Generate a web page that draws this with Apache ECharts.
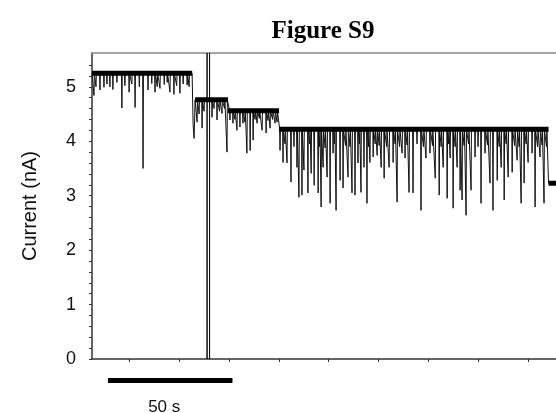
<!DOCTYPE html>
<html>
<head>
<meta charset="utf-8">
<script src="https://cdn.jsdelivr.net/npm/echarts@6/dist/echarts.min.js"></script>
<style>
html, body { margin: 0; padding: 0; background: #fff; }
#myChart { width: 556px; height: 413px; }
</style>
</head>
<body>
<div id="myChart"></div>
<script>
// current levels (nA) of the trace, with start / end time (s)
var levelStart = [0, 41.4, 54.6, 75.1, 183.3];
var levelEnd = [40.2, 54.6, 75.1, 183.3, 186.3];
var levelValue = [5.25, 4.76, 4.56, 4.22, 3.23];

// downward spikes: time (s) and lowest current (nA)
var spikeTime = [0.8, 3.2, 4.8, 8.4, 12.0, 14.9, 17.3, 20.5, 22.5, 25.3, 27.3, 31.3, 32.9, 35.3, 38.2,
    42.2, 44.2, 48.2, 50.2, 52.2, 54.2,
    55.4, 56.6, 58.2, 59.4, 60.6, 62.2, 63.5, 64.7, 66.3, 68.3, 69.9, 71.5, 73.5,
    75.5, 76.7, 78.3, 79.9, 82.3, 83.1, 84.3, 85.1, 86.7, 88.0, 89.2, 90.8, 92.0, 92.8, 94.4, 95.6,
    96.8, 98.0, 99.6, 100.8, 102.8, 104.4, 105.6, 106.8, 108.0, 109.2, 110.4, 111.6, 112.9, 114.5,
    116.1, 117.3, 119.3, 120.9, 122.5, 124.5, 125.7, 127.3, 128.9, 132.1, 134.1, 135.7, 137.8, 139.4,
    141.0, 142.6, 143.8, 145.0, 146.6, 147.8, 148.6, 150.2, 152.2, 153.8, 156.2, 157.8, 159.8, 161.0,
    162.7, 164.3, 165.5, 167.1, 168.7, 170.7, 172.3, 173.5, 175.1, 176.7, 177.9, 179.9, 181.5];
var spikeDepth = [4.84, 4.94, 4.99, 4.95, 4.61, 4.90, 4.62, 3.50, 4.94, 4.90, 4.97, 4.90, 4.86, 4.88, 5.03,
    4.35, 4.24, 4.44, 4.39, 4.51, 3.80,
    4.39, 4.33, 4.20, 4.26, 4.33, 3.78, 3.83, 4.02, 4.33, 4.20, 4.15, 4.24, 4.33,
    3.83, 3.61, 3.60, 3.25, 3.52, 2.97, 3.01, 3.47, 3.05, 3.41, 3.19, 3.05, 2.79, 3.52, 3.34, 2.86,
    3.78, 2.73, 3.28, 3.14, 3.34, 3.05, 3.01, 3.60, 3.06, 3.52, 2.86, 3.61, 3.71, 3.74,
    3.52, 3.32, 3.52, 3.61, 2.88, 3.78, 3.69, 3.06, 3.05, 2.73, 3.69, 3.78, 3.32, 3.01,
    3.52, 2.95, 3.69, 2.77, 3.52, 3.10, 2.92, 2.64, 3.10, 3.71, 2.86, 3.78, 3.23, 2.73,
    3.28, 3.52, 2.92, 3.34, 3.43, 3.65, 2.86, 3.23, 3.61, 3.78, 2.79, 3.71, 2.86];

// short spikes that thicken the noise band
var shortTime = [1.6, 6.0, 7.2, 10.0, 13.2, 16.0, 19.0, 24.0, 26.2, 29.0, 30.2, 34.0, 36.6, 39.0,
    43.0, 45.0, 49.0, 51.2, 53.2,
    57.4, 61.4, 65.5, 67.2, 70.7, 72.5, 74.3,
    77.5, 81.1, 87.4, 91.4, 93.6, 97.4, 101.8, 103.6, 107.4, 111.0, 113.7, 115.3, 118.3, 121.7,
    123.5, 126.5, 130.5, 133.1, 136.7, 140.2, 143.2, 145.8, 149.4, 151.2, 155.0, 158.8, 163.5,
    166.3, 169.7, 171.5, 174.3, 178.9, 180.7, 182.5];
var shortDepth = [5.0, 5.05, 5.0, 5.08, 5.02, 5.05, 5.0, 5.06, 5.0, 5.04, 5.08, 5.02, 5.05, 5.0,
    4.5, 4.55, 4.6, 4.55, 4.6,
    4.4, 4.35, 4.4, 4.42, 4.38, 4.4, 4.35,
    3.95, 3.9, 3.95, 3.9, 3.88, 3.95, 3.92, 3.9, 3.95, 3.9, 3.95, 3.92, 3.9, 3.95,
    3.9, 3.93, 3.95, 3.9, 3.92, 3.9, 3.95, 3.9, 3.92, 3.95, 3.9, 3.93, 3.9,
    3.95, 3.92, 3.9, 3.95, 3.9, 3.93, 3.9];

// step between level 1 and 2: time, current
var dropTime = [40.2, 40.6, 41.0, 41.4];
var dropValue = [5.25, 4.3, 4.05, 4.76];

// full-range artefact lines (s)
var artefactTime = [46.2, 47.2];

var xTicks = [15, 35, 55, 75, 95, 115, 135, 155, 175];
var yLabels = [0, 1, 2, 3, 4, 5];
var yTicks = [0, 0.2, 0.4, 0.6, 0.8, 1, 1.2, 1.4, 1.6, 1.8, 2, 2.2, 2.4, 2.6, 2.8, 3, 3.2, 3.4, 3.6,
    3.8, 4, 4.2, 4.4, 4.6, 4.8, 5, 5.2, 5.4];

var xMax = 186.3;
var yMax = 5.62;

function levelAt(t) {
    for (var i = 0; i < levelValue.length; i++) {
        if (t >= levelStart[i] && t <= levelEnd[i]) return levelValue[i];
    }
    return levelValue[levelValue.length - 1];
}

// build the trace
var events = [];
function addSpikes(times, depths) {
    for (var i = 0; i < times.length; i++) {
        var b = levelAt(times[i]);
        events.push({t: times[i], pts: [[times[i] - 0.15, b], [times[i], depths[i]], [times[i] + 0.15, b]]});
    }
}
addSpikes(spikeTime, spikeDepth);
addSpikes(shortTime, shortDepth);
for (var i = 0; i < artefactTime.length; i++) {
    var b = levelAt(artefactTime[i]);
    events.push({t: artefactTime[i], pts: [[artefactTime[i], b], [artefactTime[i], yMax], [artefactTime[i], 0], [artefactTime[i], b]]});
}
var dropPts = [];
for (var i = 0; i < dropTime.length; i++) dropPts.push([dropTime[i], dropValue[i]]);
events.push({t: dropTime[0], pts: dropPts});
events.push({t: levelEnd[3], pts: [[levelEnd[3], levelValue[3]], [levelStart[4], levelValue[4]]]});
events.sort(function(a, b) { return a.t - b.t; });

var trace = [[0, levelValue[0]]];
for (var i = 0; i < events.length; i++) {
    trace = trace.concat(events[i].pts);
}
trace.push([xMax, levelValue[4]]);

var levelSeries = [];
for (var i = 0; i < levelValue.length; i++) {
    levelSeries.push({
        type: 'line',
        data: [[levelStart[i], levelValue[i]], [levelEnd[i], levelValue[i]]],
        showSymbol: false,
        lineStyle: {color: '#000', width: 5},
        silent: true
    });
}

var myChart = echarts.init(document.getElementById('myChart'));
var option = {
    animation: false,
    title: {
        text: 'Figure S9',
        left: 318,
        textAlign: 'center',
        top: 14,
        textStyle: {fontFamily: 'Liberation Serif', fontWeight: 'bold', fontSize: 25, color: '#000'}
    },
    grid: {left: 92, right: 0, top: 53, bottom: 54},
    xAxis: [{
        type: 'value',
        min: 0,
        max: xMax,
        axisLine: {lineStyle: {color: '#333', width: 1.5}},
        axisTick: {customValues: xTicks, length: 3, lineStyle: {color: '#333'}},
        axisLabel: {show: false},
        splitLine: {show: false}
    }, {
        type: 'value',
        position: 'top',
        min: 0,
        max: xMax,
        axisLine: {show: true, lineStyle: {color: '#888', width: 1.5}},
        axisTick: {show: false},
        axisLabel: {show: false},
        splitLine: {show: false}
    }],
    yAxis: {
        type: 'value',
        min: 0,
        max: yMax,
        name: 'Current (nA)',
        nameLocation: 'middle',
        nameGap: 52,
        nameTextStyle: {fontFamily: 'Liberation Sans', fontSize: 20, color: '#111'},
        axisLine: {show: true, lineStyle: {color: '#333', width: 1.5}},
        axisTick: {customValues: yTicks, length: 3, lineStyle: {color: '#333'}},
        axisLabel: {customValues: yLabels, margin: 16, fontFamily: 'Liberation Sans', fontSize: 18, color: '#111'},
        splitLine: {show: false}
    },
    series: [{
        type: 'line',
        data: trace,
        showSymbol: false,
        sampling: null,
        lineStyle: {color: '#111', width: 1},
        silent: true
    }].concat(levelSeries)
};
myChart.setOption(option);

// 50 s scale bar under the axis
var p0 = myChart.convertToPixel({xAxisIndex: 0}, 6.4);
var p1 = myChart.convertToPixel({xAxisIndex: 0}, 6.4 + 50);
myChart.setOption({
    graphic: [{
        type: 'rect',
        shape: {x: p0, y: 378, width: p1 - p0, height: 5},
        style: {fill: '#000'}
    }, {
        type: 'text',
        x: (p0 + p1) / 2 - 6,
        y: 407,
        style: {text: '50 s', fontFamily: 'Liberation Sans', fontSize: 17, fill: '#111', align: 'center', verticalAlign: 'middle'}
    }]
});
</script>
</body>
</html>
